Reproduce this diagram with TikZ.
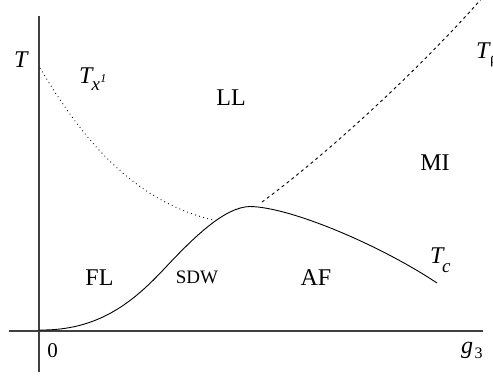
\documentclass[tikz,border=0pt]{standalone}
\usepackage{fontspec}
\setmainfont{Liberation Serif}
\begin{document}
\begin{tikzpicture}[x=1pt,y=-1pt,
  axis/.style={line width=1.3pt,black!75},
  curve/.style={line width=0.9pt,black},
  lbl/.style={inner sep=0pt,anchor=base,font=\fontsize{24}{28}\selectfont},
  lblw/.style={inner sep=0pt,anchor=base west,font=\fontsize{24}{28}\selectfont},
  small/.style={inner sep=0pt,anchor=base,font=\fontsize{19}{22}\selectfont}]
\useasboundingbox (0,0) rectangle (493,376);
% axes
\coordinate (yb) at (39,372);
\coordinate (yt) at (39,16);
\coordinate (xl) at (9,331);
\coordinate (xr) at (483,331);
\draw[axis] (yb) -- (yt);
\draw[axis] (xl) -- (xr);
% curves
\coordinate (o) at (39,330);
\coordinate (pk) at (250,206.5);
\coordinate (tcend) at (437,283);
\coordinate (dotA) at (40,68);
\coordinate (dotB) at (213,220);
\coordinate (dashA) at (262,202);
\coordinate (dashB) at (496,-18);
\draw[curve] (o) .. controls (100,331) and (135,300) .. (165,268)
  .. controls (195,236) and (225,207) .. (pk)
  .. controls (290,207) and (380,245) .. (tcend);
\draw[line width=0.9pt,dash pattern=on 0.8pt off 3.4pt] (dotA) .. controls (80,135) and (130,200) .. (dotB);
\draw[line width=0.9pt,dash pattern=on 3pt off 3.2pt] (dashA) .. controls (330,152) and (430,60) .. (dashB);
% labels
\node[lblw] (T) at (14,67) {\itshape T};
\node[lblw] (Tx) at (79,83) {\itshape T\kern-1pt\raisebox{-7pt}{\fontsize{19}{19}\selectfont x\kern0.5pt\raisebox{8pt}{\fontsize{12}{12}\selectfont 1}}};
\node[lbl] (LL) at (231,105) {LL};
\node[lblw] (Trho) at (476,58) {\itshape T\kern0.5pt\upshape\raisebox{-5pt}{\fontsize{16}{16}\selectfont ρ}};
\node[lbl] (MI) at (435,170) {MI};
\node[lbl] (FL) at (99.5,285) {FL};
\node[small] (SDW) at (197,283) {SDW};
\node[lbl] (AF) at (316,285) {AF};
\node[lblw] (Tc) at (430,263) {\itshape T\kern-1.5pt\raisebox{-9pt}{\fontsize{19}{19}\selectfont c}};
\node[small,font=\fontsize{21}{24}\selectfont] (zero) at (52.5,357) {0};
\node[lblw] (g3) at (461,353) {\itshape g\kern1.5pt\upshape\raisebox{-5pt}{\fontsize{16}{16}\selectfont 3}};
\end{tikzpicture}
\end{document}
